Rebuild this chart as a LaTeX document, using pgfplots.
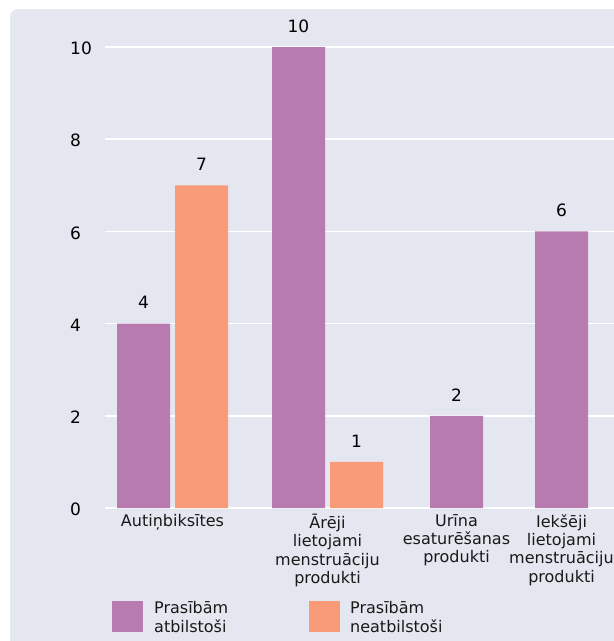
\documentclass[border=0pt]{standalone}
\usepackage{pgfplots}
\pgfplotsset{compat=1.18}
\usepackage{fontspec}
\setmainfont{DejaVu Sans}
\definecolor{bg}{HTML}{E4E7EF}
\definecolor{purp}{HTML}{B77BB0}
\definecolor{oran}{HTML}{F99B78}
\begin{document}
\begin{tikzpicture}[x=1pt,y=1pt]
\clip (0,0) rectangle (614,-641);
\fill[bg, rounded corners=8pt] (10,-9) rectangle (640,-670);
\begin{axis}[
  at={(105pt,-508pt)}, anchor=south west,
  scale only axis, width=509pt, height=461pt,
  xmin=105, xmax=614, ymin=0, ymax=10,
  clip=false,
  axis line style={draw=none},
  tick style={draw=none},
  major tick length=0pt,
  ymajorgrids, grid style={white, line width=1.5pt},
  ytick={0,2,...,10},
  yticklabel style={anchor=west, inner sep=0pt, xshift=-35pt, yshift=-1.5pt, font=\fontsize{17}{20}\selectfont},
  /pgf/number format/assume math mode=true,
  xtick={172.5,327.5,456.5,561.5},
  xticklabels={Autiņbiksītes,{Ārēji\\lietojami\\menstruāciju\\produkti},{Urīna\\esaturēšanas\\produkti},{Iekšēji\\lietojami\\menstruāciju\\produkti}},
  xticklabel style={align=center, inner sep=0pt, font=\fontsize{16}{18.4}\selectfont, text=black!90, anchor=north, yshift=-6pt},
  ybar, bar width=53, bar shift=0pt,
  nodes near coords,
  nodes near coords style={font=\fontsize{17}{20}\selectfont, anchor=center, yshift=21pt, text=black},
]
\addplot[fill=purp, draw=none] coordinates {(143.5,4) (298.5,10) (456.5,2) (561.5,6)};
\addplot[fill=oran, draw=none] coordinates {(201.5,7) (356.5,1)};
\end{axis}
\fill[purp] (112,-601) rectangle (143,-632);
\node[anchor=west, align=left, inner sep=0pt, font=\fontsize{16}{18.4}\selectfont, text=black!90] at (154,-617) {Prasībām\\atbilstoši};
\fill[oran] (309,-601) rectangle (340,-632);
\node[anchor=west, align=left, inner sep=0pt, font=\fontsize{16}{18.4}\selectfont, text=black!90] at (350,-617) {Prasībām\\neatbilstoši};
\end{tikzpicture}
\end{document}
